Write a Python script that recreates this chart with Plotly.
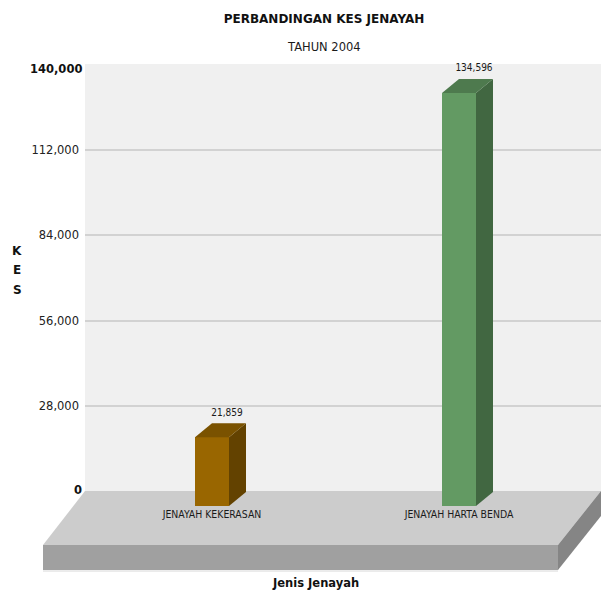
import plotly.graph_objects as go

W, H = 603, 591

categories = ["JENAYAH KEKERASAN", "JENAYAH HARTA BENDA"]
values = [21859, 134596]
value_labels = ["21,859", "134,596"]
front_colors = ["#996600", "#639A63"]
top_colors = ["#7A5200", "#4E7A4E"]
side_colors = ["#634200", "#416741"]
tick_values = [28000, 56000, 84000, 112000]
tick_labels = ["28,000", "56,000", "84,000", "112,000"]

FONT = "DejaVu Sans"
NARROW = "DejaVu Sans Condensed"
TXT = "#1a1a1a"


def px(x):
    return x / W


def py(y):
    return 1 - y / H


Y_MAX = 140000
k = (491.5 - 64) / Y_MAX      # px per unit
unit = 247.0                  # px per category
x0_px = 212.0
half = 17 / unit
dx = 17 / unit
dy = 14 / k                   # depth rise
base = -14.5 / k              # front bottom below zero
lift = -12.4 / k              # value zero of the front face
y_low = -(575 - 491.5) / k

fig = go.Figure()

tops = [v + lift for v in values]
fig.add_trace(go.Bar(
    x=list(range(len(values))),
    y=[t - base for t in tops],
    base=[base] * len(values),
    width=2 * half,
    marker=dict(color=front_colors, line_width=0),
    showlegend=False,
    hoverinfo="skip",
))

for i, t in enumerate(tops):
    xl, xr = i - half, i + half
    fig.add_trace(go.Scatter(
        x=[xr, xr + dx, xr + dx, xr, xr], y=[base, base + dy, t + dy, t, base],
        mode="lines", fill="toself", fillcolor=side_colors[i], line=dict(width=0),
        showlegend=False, hoverinfo="skip"))
    fig.add_trace(go.Scatter(
        x=[xl, xr, xr + dx, xl + dx, xl], y=[t, t, t + dy, t + dy, t],
        mode="lines", fill="toself", fillcolor=top_colors[i], line=dict(width=0),
        showlegend=False, hoverinfo="skip"))

# value labels
fig.add_trace(go.Scatter(
    x=[i + 15 / unit for i in range(len(values))],
    y=[t + dy + 5 / k for t in tops],
    mode="text", text=value_labels, textposition="top center",
    textfont=dict(family=NARROW, size=10, color=TXT),
    cliponaxis=False, showlegend=False, hoverinfo="skip"))

# category labels on the floor
fig.add_trace(go.Scatter(
    x=list(range(len(categories))),
    y=[-23.5 / k] * len(categories),
    mode="text", text=categories, textposition="middle center",
    textfont=dict(family=NARROW, size=10.4, color=TXT),
    cliponaxis=False, showlegend=False, hoverinfo="skip"))


def poly(pts, color):
    path = "M " + " L ".join(f"{px(a):.5f},{py(b):.5f}" for a, b in pts) + " Z"
    return dict(type="path", xref="paper", yref="paper", path=path,
                fillcolor=color, line=dict(width=0), layer="below")


shapes = [
    poly([(85, 64), (601, 64), (601, 491.5), (85, 491.5)], "#F0F0F0"),
    poly([(85, 491), (601, 491), (558, 545), (43, 545)], "#CCCCCC"),
    poly([(43, 545), (558, 545), (558, 570), (43, 570)], "#A0A0A0"),
    poly([(558, 545), (601, 491), (601, 516), (558, 570)], "#858585"),
    dict(type="line", xref="paper", yref="paper", x0=px(43), x1=px(558), y0=py(571), y1=py(571),
         line=dict(color="#D8D8D8", width=1), layer="below"),
]


def note(text, x, y, size=12, xanchor="center", color="#111111"):
    return dict(text=text, xref="paper", yref="paper", x=px(x), y=py(y), showarrow=False,
                xanchor=xanchor, yanchor="middle", borderpad=0,
                font=dict(family=FONT, size=size, color=color))


annotations = [
    note("TAHUN 2004", 324, 47, 11.5, color=TXT),
    note("<b>140,000</b>", 83, 69, 11.5, "right"),
    note("<b>0</b>", 83, 490, 11.5, "right"),
    note("<b>K</b>", 17, 251),
    note("<b>E</b>", 17, 270),
    note("<b>S</b>", 17, 290),
    note("<b>Jenis Jenayah</b>", 316, 583, 11.5),
]

fig.update_layout(
    width=W, height=H, autosize=False,
    margin=dict(l=0, r=0, t=0, b=0, autoexpand=False),
    paper_bgcolor="white",
    plot_bgcolor="rgba(0,0,0,0)",
    showlegend=False,
    title=dict(text="<b>PERBANDINGAN KES JENAYAH</b>", x=px(324), xanchor="center", xref="paper",
               y=py(19), yanchor="middle", yref="paper",
               font=dict(family=FONT, size=12, color="#111111")),
    xaxis=dict(domain=[px(85), px(601)], range=[(85 - x0_px) / unit, (601 - x0_px) / unit],
               visible=False, fixedrange=True),
    yaxis=dict(domain=[py(575), py(64)], range=[y_low, Y_MAX], tickvals=tick_values, ticktext=tick_labels,
               showgrid=True, gridcolor="#D2D2D2", gridwidth=2, zeroline=False, showline=False,
               ticks="", ticklabelstandoff=5,
               tickfont=dict(family=FONT, size=11.5, color="#222222"), fixedrange=True),
    shapes=shapes,
    annotations=annotations,
    bargap=0,
)

fig.write_html("out.html", post_script="document.body.style.margin='0';",
               config=dict(displayModeBar=False))
